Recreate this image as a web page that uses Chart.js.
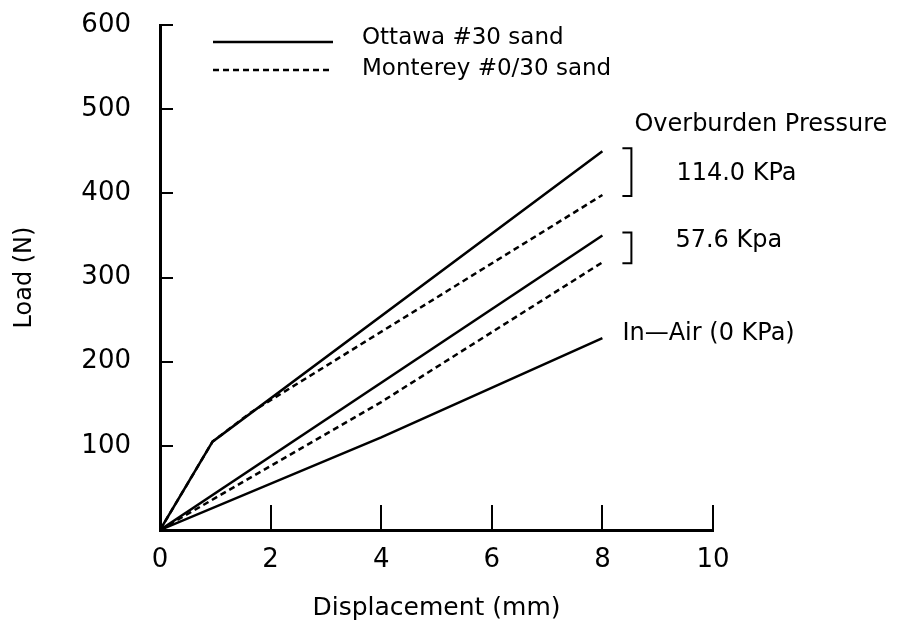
<!DOCTYPE html>
<html>
<head>
<meta charset="utf-8">
<script src="https://cdn.jsdelivr.net/npm/chart.js@4.4.1/dist/chart.umd.min.js"></script>
<style>
    html, body { margin: 0; padding: 0; background: #fff; }
    #wrap { width: 901px; height: 643px; position: relative; }
</style>
</head>
<body>
<div id="wrap"><canvas id="load-chart"></canvas></div>
<script>
// displacement (mm) / load (N)
const ottawa114X = [0, 0.95, 8];
const ottawa114Y = [0, 105, 450];
const monterey114X = [0, 0.95, 1.65, 8];
const monterey114Y = [0, 105, 140, 398];
const ottawa576X = [0, 8];
const ottawa576Y = [0, 350];
const monterey576X = [0, 4, 8];
const monterey576Y = [0, 152, 318];
const inAirX = [0, 4, 8];
const inAirY = [0, 110, 228];

const xTickValues = [2, 4, 6, 8, 10];
const yTickValues = [100, 200, 300, 400, 500, 600];
const legendLabels = ['Ottawa #30 sand', 'Monterey #0/30 sand'];
const pressureLabels = ['Overburden Pressure', '114.0 KPa', '57.6 Kpa', 'In\u2014Air (0 KPa)'];

function toPoints(xs, ys) {
    return xs.map((x, i) => ({ x: x, y: ys[i] }));
}

const FONT = 'DejaVu Sans';
Chart.defaults.font.family = FONT;
Chart.defaults.color = '#000';

function line(label, xs, ys, dashed) {
    return {
        label: label,
        data: toPoints(xs, ys),
        showLine: true,
        borderColor: '#000',
        borderWidth: 2.5,
        borderDash: dashed ? [6, 4] : [],
        pointRadius: 0,
        tension: 0,
        fill: false
    };
}

const decorations = {
    id: 'decorations',
    afterDatasetsDraw(chart) {
        const ctx = chart.ctx;
        const xs = chart.scales.x;
        const ys = chart.scales.y;
        const area = chart.chartArea;
        ctx.save();
        ctx.strokeStyle = '#000';
        ctx.lineWidth = 2;
        ctx.fillStyle = '#000';

        // inside ticks
        xTickValues.forEach(v => {
            const px = Math.round(xs.getPixelForValue(v));
            ctx.beginPath();
            ctx.moveTo(px, area.bottom);
            ctx.lineTo(px, area.bottom - 25);
            ctx.stroke();
        });
        yTickValues.forEach(v => {
            const py = Math.round(ys.getPixelForValue(v));
            ctx.beginPath();
            ctx.moveTo(area.left, py);
            ctx.lineTo(area.left + 13, py);
            ctx.stroke();
        });

        // legend
        ctx.lineWidth = 2.5;
        ctx.font = '23px "' + FONT + '"';
        ctx.textBaseline = 'middle';
        ctx.textAlign = 'left';
        [[42, []], [70, [6, 4]]].forEach((row, i) => {
            ctx.setLineDash(row[1]);
            ctx.beginPath();
            ctx.moveTo(213, row[0]);
            ctx.lineTo(333, row[0]);
            ctx.stroke();
            ctx.fillText(legendLabels[i], 362, row[0] - 4 + i * 3);
        });
        ctx.setLineDash([]);

        // brackets grouping the end values
        ctx.lineWidth = 2;
        const x8 = xs.getPixelForValue(8);
        const bx = x8 + 20;
        const groups = [
            [ottawa114Y[ottawa114Y.length - 1], monterey114Y[monterey114Y.length - 1]],
            [ottawa576Y[ottawa576Y.length - 1], monterey576Y[monterey576Y.length - 1]]
        ];
        groups.forEach(g => {
            const y1 = ys.getPixelForValue(g[0]) - 3;
            const y2 = ys.getPixelForValue(g[1]) + 1;
            ctx.beginPath();
            ctx.moveTo(bx, y1);
            ctx.lineTo(bx + 9, y1);
            ctx.lineTo(bx + 9, y2);
            ctx.lineTo(bx, y2);
            ctx.stroke();
        });

        ctx.font = '24px "' + FONT + '"';
        ctx.fillText(pressureLabels[0], x8 + 32, 125);
        ctx.fillText(pressureLabels[1], x8 + 74, 174);
        ctx.fillText(pressureLabels[2], x8 + 73, 241);
        ctx.fillText(pressureLabels[3], x8 + 20, ys.getPixelForValue(inAirY[inAirY.length - 1]) - 4);
        ctx.restore();
    }
};

new Chart(document.getElementById('load-chart'), {
    type: 'scatter',
    data: {
        datasets: [
            line('Ottawa 114.0', ottawa114X, ottawa114Y, false),
            line('Monterey 114.0', monterey114X, monterey114Y, true),
            line('Ottawa 57.6', ottawa576X, ottawa576Y, false),
            line('Monterey 57.6', monterey576X, monterey576Y, true),
            line('In-Air', inAirX, inAirY, false)
        ]
    },
    options: {
        responsive: true,
        maintainAspectRatio: false,
        animation: false,
        layout: {
            padding: { left: 0, top: 25, right: 188, bottom: 0 }
        },
        plugins: {
            legend: { display: false },
            tooltip: { enabled: false }
        },
        scales: {
            x: {
                type: 'linear',
                min: 0,
                max: 10,
                afterFit(scale) { scale.height = 113; },
                grid: { display: false, drawTicks: false },
                border: { display: true, color: '#000', width: 3 },
                ticks: {
                    stepSize: 2,
                    padding: 15,
                    font: { size: 26 }
                },
                title: {
                    display: true,
                    text: 'Displacement (mm)',
                    font: { size: 25 },
                    padding: { top: 0, bottom: 20 }
                }
            },
            y: {
                type: 'linear',
                min: 0,
                max: 600,
                afterFit(scale) { scale.width = 160; },
                // label gap comes from the (hidden) tick length so the top padding stays small
                grid: { display: false, drawTicks: true, tickLength: 29 },
                border: { display: true, color: '#000', width: 3 },
                ticks: {
                    stepSize: 100,
                    padding: 0,
                    font: { size: 26 },
                    callback: v => v === 0 ? '' : v
                },
                title: {
                    display: true,
                    text: 'Load (N)',
                    font: { size: 24 },
                    padding: { top: 10, bottom: 0 }
                }
            }
        }
    },
    plugins: [decorations]
});
</script>
</body>
</html>
